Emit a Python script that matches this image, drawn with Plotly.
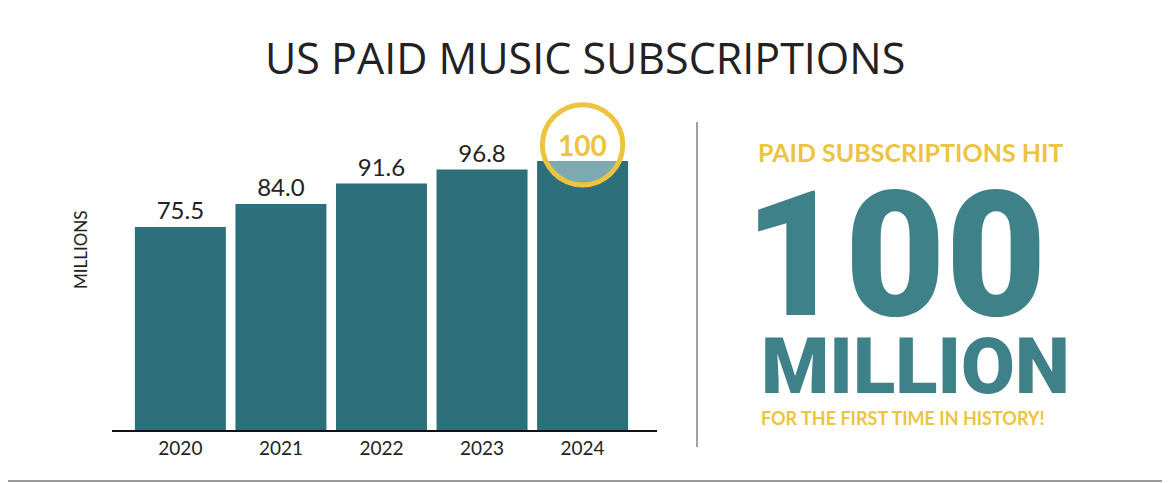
import plotly.graph_objects as go

years = ["2020", "2021", "2022", "2023", "2024"]
subs = [75.5, 84.0, 91.6, 96.8, 100]
labels = ["75.5", "84.0", "91.6", "96.8", ""]

TEAL = "#2d6f7b"
LIGHT = "#7fa9b0"
YELLOW = "#ecc440"
BIG = "#3f8189"
OFF = 8  # page body margin

fig = go.Figure()
fig.add_trace(go.Bar(x=years, y=subs, text=labels, textposition="outside",
                     textfont=dict(size=24, color="#222", family="Lato"),
                     marker=dict(color=TEAL, line=dict(width=0)), width=0.905,
                     cliponaxis=False, hoverinfo="skip"))

# highlight circle on the 2024 bar
cx, cy, r = 4, 106, 14.9
rx = 0.4
fig.add_shape(type="circle", x0=cx - rx, x1=cx + rx, y0=cy - r, y1=cy + r,
              fillcolor=LIGHT, line_width=0, layer="above")
fig.add_shape(type="rect", x0=cx - 0.5, x1=cx + 0.5, y0=subs[4], y1=cy + r + 1,
              fillcolor="white", line_width=0, layer="above")
fig.add_shape(type="circle", x0=cx - rx, x1=cx + rx, y0=cy - r, y1=cy + r,
              line=dict(color=YELLOW, width=5), layer="above")
fig.add_annotation(x=cx, y=cy, text="<b>100</b>", showarrow=False,
                   font=dict(size=28, color=YELLOW, family="Lato"))

def px(x):
    return (x - OFF) / 1170

def py(y):
    return 1 - (y - OFF) / 483

# divider line and bottom rule
fig.add_shape(type="line", xref="paper", yref="paper", x0=px(697), x1=px(697),
              y0=py(447), y1=py(122), line=dict(color="#444", width=1))
fig.add_shape(type="line", xref="paper", yref="paper", x0=0, x1=1,
              y0=py(481), y1=py(481), line=dict(color="#999", width=2))

def txt(x, y, s, size, color, family="Lato"):
    fig.add_annotation(xref="paper", yref="paper", x=px(x), y=py(y), text=s,
                       showarrow=False, xanchor="center", yanchor="middle",
                       font=dict(size=size, color=color, family=family))

txt(585, 57, "US PAID MUSIC SUBSCRIPTIONS", 43, "#222", "Open Sans")
txt(910, 152, "<b>PAID SUBSCRIPTIONS HIT</b>", 25, YELLOW)
txt(895, 255, "<b>100</b>", 174, BIG, "Roboto Black, Roboto")
txt(915, 366, "<b>MILLION</b>", 78, BIG, "Roboto Black, Roboto")
txt(903, 418, "<b>FOR THE FIRST TIME IN HISTORY!</b>", 18, YELLOW)
txt(80, 250, "MILLIONS", 17, "#222")
fig.layout.annotations[-1].textangle = -90

fig.update_layout(
    width=1170, height=483, margin=dict(l=0, r=0, t=0, b=0),
    plot_bgcolor="white", paper_bgcolor="white", showlegend=False,
    xaxis=dict(domain=[px(112), px(657)], range=[-0.68, 4.74], showgrid=False,
               showline=True, linecolor="#111", linewidth=2, ticks="",
               tickfont=dict(size=19, color="#222", family="Lato")),
    yaxis=dict(domain=[py(430), py(430 - 125 * 2.69)], range=[0, 125], visible=False),
)
fig.write_html("out.html")
